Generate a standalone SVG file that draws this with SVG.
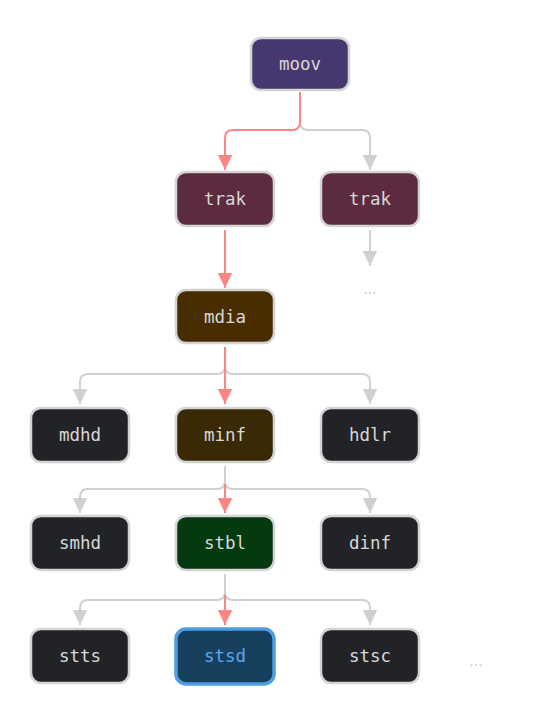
<svg xmlns="http://www.w3.org/2000/svg" width="552" height="720" viewBox="0 0 552 720">
<defs>
<marker id="ag" markerUnits="userSpaceOnUse" markerWidth="16" markerHeight="16" refX="15" refY="8" orient="auto" viewBox="0 0 16 16"><path d="M0,0.8 L15,8 L0,15.2 z" fill="#d0d0d0"/></marker>
<marker id="ar" markerUnits="userSpaceOnUse" markerWidth="16" markerHeight="16" refX="15" refY="8" orient="auto" viewBox="0 0 16 16"><path d="M0,0.8 L15,8 L0,15.2 z" fill="#ff8585"/></marker>
<style>
.box{stroke:#d4d4d4;stroke-width:2.5}
.lbl{font-family:"DejaVu Sans Mono","Liberation Mono",monospace;font-size:17.5px;fill:#d8d8d8;text-anchor:middle;dominant-baseline:central}
.g{fill:none;stroke:#d0d0d0;stroke-width:2}
.r{fill:none;stroke:#ff8585;stroke-width:2}
.dots{font-family:"DejaVu Sans","Liberation Sans",sans-serif;font-size:14px;fill:#c8c8c8;text-anchor:middle}
</style>
</defs>
<rect width="552" height="720" fill="#ffffff"/>
<g id="connectors">
<path class="g" d="M300 92 V122 Q300 130 308 130 H362 Q370 130 370 138 V170" marker-end="url(#ag)"/>
<path class="r" d="M300 92 V122 Q300 130 292 130 H233 Q225 130 225 138 V170" marker-end="url(#ar)"/>
<path class="r" d="M225 230 V288" marker-end="url(#ar)"/>
<path class="g" d="M370 230 V266" marker-end="url(#ag)"/>
<path class="g" d="M225 347 V366 Q225 374 217 374 H88 Q80 374 80 382 V404" marker-end="url(#ag)"/>
<path class="g" d="M225 347 V366 Q225 374 233 374 H362 Q370 374 370 382 V404" marker-end="url(#ag)"/>
<path class="r" d="M225 347 V404" marker-end="url(#ar)"/>
<path class="g" d="M225 466 V481 Q225 489 217 489 H88 Q80 489 80 497 V513" marker-end="url(#ag)"/>
<path class="g" d="M225 466 V481 Q225 489 233 489 H362 Q370 489 370 497 V513" marker-end="url(#ag)"/>
<path class="r" d="M225 484 V513" marker-end="url(#ar)"/>
<path class="g" d="M225 574 V592 Q225 600 217 600 H88 Q80 600 80 608 V625" marker-end="url(#ag)"/>
<path class="g" d="M225 574 V592 Q225 600 233 600 H362 Q370 600 370 608 V625" marker-end="url(#ag)"/>
<path class="r" d="M225 595 V625" marker-end="url(#ar)"/>
</g>
<g id="moov"><rect class="box" x="251" y="38" width="98" height="52" rx="10" fill="#46386e"/><text class="lbl" x="300" y="64">moov</text></g>
<g id="trak1"><rect class="box" x="176" y="172" width="98" height="54" rx="10" fill="#5c2b3f"/><text class="lbl" x="225" y="199">trak</text></g>
<g id="trak2"><rect class="box" x="321" y="172" width="98" height="54" rx="10" fill="#5c2b3f"/><text class="lbl" x="370" y="199">trak</text></g>
<g id="trak2-more"><text class="dots" x="370" y="294">...</text></g>
<g id="mdia"><rect class="box" x="176" y="290" width="98" height="53" rx="10" fill="#492c00"/><text class="lbl" x="225" y="317">mdia</text></g>
<g id="mdhd"><rect class="box" x="31" y="408" width="98" height="54" rx="10" fill="#222327"/><text class="lbl" x="80" y="435">mdhd</text></g>
<g id="minf"><rect class="box" x="176" y="408" width="98" height="54" rx="10" fill="#3a2905"/><text class="lbl" x="225" y="435">minf</text></g>
<g id="hdlr"><rect class="box" x="321" y="408" width="98" height="54" rx="10" fill="#222327"/><text class="lbl" x="370" y="435">hdlr</text></g>
<g id="smhd"><rect class="box" x="31" y="516" width="98" height="54" rx="10" fill="#222327"/><text class="lbl" x="80" y="543">smhd</text></g>
<g id="stbl"><rect class="box" x="176" y="516" width="98" height="54" rx="10" fill="#053a10"/><text class="lbl" x="225" y="543">stbl</text></g>
<g id="dinf"><rect class="box" x="321" y="516" width="98" height="54" rx="10" fill="#222327"/><text class="lbl" x="370" y="543">dinf</text></g>
<g id="stts"><rect class="box" x="31" y="629" width="98" height="54" rx="10" fill="#222327"/><text class="lbl" x="80" y="656">stts</text></g>
<g id="stsd"><rect x="176" y="629" width="98" height="55" rx="10" fill="#17405f" stroke="#4d9de0" stroke-width="3.5"/><text class="lbl" x="225" y="656" style="fill:#5aa9ec">stsd</text></g>
<g id="stsc"><rect class="box" x="321" y="629" width="98" height="54" rx="10" fill="#222327"/><text class="lbl" x="370" y="656">stsc</text></g>
<g id="more"><text class="dots" x="476" y="666">...</text></g>
</svg>
